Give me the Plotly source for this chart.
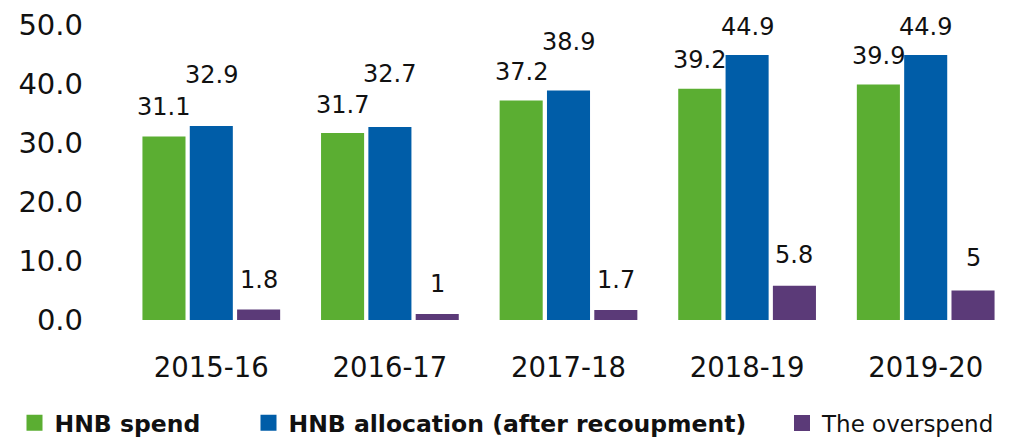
import plotly.graph_objects as go

years = ["2015-16", "2016-17", "2017-18", "2018-19", "2019-20"]
hnb_spend = [31.1, 31.7, 37.2, 39.2, 39.9]
hnb_allocation = [32.9, 32.7, 38.9, 44.9, 44.9]
overspend = [1.8, 1.0, 1.7, 5.8, 5.0]
spend_text = ["31.1", "31.7", "37.2", "39.2", "39.9"]
alloc_text = ["32.9", "32.7", "38.9", "44.9", "44.9"]
over_text = ["1.8", "1", "1.7", "5.8", "5"]
y_ticks = [0, 10, 20, 30, 40, 50]
y_tick_text = ["0.0", "10.0", "20.0", "30.0", "40.0", "50.0"]
series_names = ["<b>HNB spend</b>", "<b>HNB allocation (after recoupment)</b>", "The overspend"]

colors = ["#5BAE32", "#005DA8", "#5B3A78"]
series = list(zip(series_names, [hnb_spend, hnb_allocation, overspend],
                  [spend_text, alloc_text, over_text], colors))
# extra lift (px) for value labels, per series, per year (style only)
label_lift = [
    [14, 12, 13, 13, 13],
    [35, 37, 32, 12, 12],
    [13, 14, 14, 15, 17],
]
# legend placement (figure px of symbol centre) and font size - style only
legend_sym_x = [26.5, 260.5, 794]
legend_font = [23.5, 23.5, 23]

W, H = 1007, 429   # page body has an 8px margin
BARGAP = 0.205
FONT = "DejaVu Sans"
INK = "#111111"

fig = go.Figure()
legend_ids = ["legend", "legend2", "legend3"]
for k, (name, vals, _, color) in enumerate(series):
    fig.add_trace(go.Bar(x=years, y=vals, name=name, showlegend=False,
                         marker=dict(color=color, line=dict(width=0))))
for k, (name, vals, _, color) in enumerate(series):
    fig.add_trace(go.Scatter(x=[None], y=[None], mode="markers", name=name,
                             legend=legend_ids[k], showlegend=True,
                             marker=dict(symbol="square", size=16, color=color)))

slot = (1 - BARGAP) / len(series)
annotations = []
for si, (name, vals, texts, color) in enumerate(series):
    off = (si - (len(series) - 1) / 2) * slot
    for i, (v, t) in enumerate(zip(vals, texts)):
        annotations.append(dict(
            x=i + off, y=v, xref="x", yref="y", text=t, showarrow=False,
            yanchor="bottom", xanchor="center", yshift=label_lift[si][i],
            font=dict(family=FONT, size=24, color=INK),
        ))

def legend_cfg(k):
    return dict(
        orientation="h", xref="container", yref="container",
        x=(legend_sym_x[k] - 20) / W, y=(H - 415) / H,
        xanchor="left", yanchor="middle",
        font=dict(family=FONT, size=legend_font[k], color=INK),
        bgcolor="rgba(0,0,0,0)", borderwidth=0, itemsizing="trace",
    )

fig.update_layout(
    width=W, height=H,
    margin=dict(l=114, r=0, t=17, b=117),
    paper_bgcolor="white", plot_bgcolor="white",
    barmode="group", bargap=BARGAP, bargroupgap=0.09,
    font=dict(family=FONT, color=INK),
    annotations=annotations,
    showlegend=True,
    legend=legend_cfg(0), legend2=legend_cfg(1), legend3=legend_cfg(2),
    xaxis=dict(
        type="category", showgrid=False, zeroline=False, showline=False,
        tickfont=dict(family=FONT, size=27.5, color=INK),
        ticklabelstandoff=28, range=[-0.5, 4.5],
    ),
    yaxis=dict(
        range=[0, 50], tickvals=y_ticks, ticktext=y_tick_text,
        showgrid=False, zeroline=False, showline=False,
        tickfont=dict(family=FONT, size=29, color=INK),
        ticklabelstandoff=38,
    ),
)

fig.write_html("out.html")
